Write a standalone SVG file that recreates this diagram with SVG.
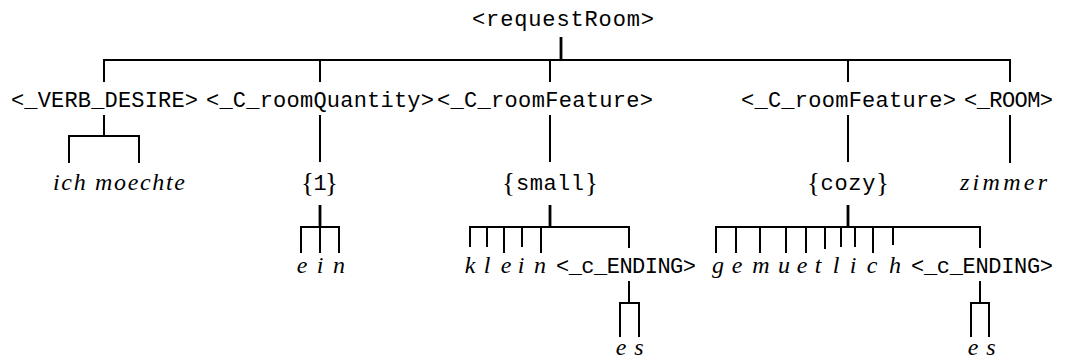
<svg xmlns="http://www.w3.org/2000/svg" width="1065" height="363" viewBox="0 0 1065 363">
  <style>
    .tt { font-family: "Liberation Mono", "DejaVu Sans Mono", monospace; font-size: 22px; fill: #000; }
    .rm { font-family: "Liberation Serif", "DejaVu Serif", serif; font-size: 27px; fill: #000; }
    .it { font-family: "Liberation Serif", "DejaVu Serif", serif; font-style: italic; font-size: 24px; fill: #000; }
    .mid { text-anchor: middle; }
    .end { text-anchor: end; }
    .edge { fill: none; stroke: #000; stroke-width: 2; stroke-linecap: butt; stroke-linejoin: miter; }
    .stem { fill: none; stroke: #000; stroke-width: 2.8; }
  </style>

  <!-- tree branches -->
  <g id="connectors">
    <!-- root -->
    <path class="stem" d="M561,37 V60"/>
    <path class="edge" d="M104,82 V60 H1010 V82 M320,60 V82 M550,60 V82 M848,60 V82"/>
    <!-- first level down to terminals/classes -->
    <path class="edge" d="M104,115 V136 M69,163 V136 H139 V163"/>
    <path class="edge" d="M320,115 V162"/>
    <path class="edge" d="M550,115 V162"/>
    <path class="edge" d="M848,115 V162"/>
    <path class="edge" d="M1010,115 V163"/>
    <!-- {1} -> e i n -->
    <path class="stem" d="M320,205 V227"/>
    <path class="edge" d="M301,253 V227 H339 V253 M320,227 V253"/>
    <!-- {small} -> k l e i n <_c_ENDING> -->
    <path class="stem" d="M550,205 V227"/>
    <path class="edge" d="M470,247 V227 H629 V248 M487,227 V247 M504,227 V253 M522,227 V247 M541,227 V253"/>
    <!-- {cozy} -> g e m u e t l i c h <_c_ENDING> -->
    <path class="stem" d="M848,205 V227"/>
    <path class="edge" d="M716,253 V227 H980 V248 M736,227 V253 M760,227 V253 M786,227 V253 M806,227 V253 M825,227 V249 M841,227 V247 M855,227 V247 M873,227 V253 M893,227 V245"/>
    <!-- endings -->
    <path class="edge" d="M629,281 V303 M620,337 V303 H639 V337"/>
    <path class="edge" d="M980,281 V303 M971,337 V303 H989 V337"/>
  </g>

  <g id="requestRoom">
    <text class="tt" x="472" y="26" textLength="182" lengthAdjust="spacing">&lt;requestRoom&gt;</text>
  </g>

  <g id="verb-desire">
    <text class="tt" x="11" y="107" textLength="187" lengthAdjust="spacing">&lt;_VERB_DESIRE&gt;</text>
  </g>
  <g id="ich-moechte">
    <text class="it" x="53" y="190" textLength="132" lengthAdjust="spacing">ich moechte</text>
  </g>

  <g id="room-quantity">
    <text class="tt" x="206" y="107" textLength="228" lengthAdjust="spacing">&lt;_C_roomQuantity&gt;</text>
  </g>
  <g id="value-1">
    <text class="rm" x="301" y="192">{</text>
    <text class="tt mid" x="320" y="190">1</text>
    <text class="rm end" x="338" y="192">}</text>
  </g>
  <g id="ein">
    <text class="it mid" x="302" y="273">e</text>
    <text class="it mid" x="320" y="273">i</text>
    <text class="it mid" x="339" y="273">n</text>
  </g>

  <g id="room-feature-1">
    <text class="tt" x="437" y="107" textLength="216" lengthAdjust="spacing">&lt;_C_roomFeature&gt;</text>
  </g>
  <g id="value-small">
    <text class="rm" x="502" y="192">{</text>
    <text class="tt mid" x="550" y="190" textLength="68" lengthAdjust="spacing">small</text>
    <text class="rm end" x="598" y="192">}</text>
  </g>
  <g id="klein">
    <text class="it mid" x="470" y="273">k</text>
    <text class="it mid" x="487" y="273">l</text>
    <text class="it mid" x="506" y="273">e</text>
    <text class="it mid" x="521" y="273">i</text>
    <text class="it mid" x="540" y="273">n</text>
  </g>
  <g id="ending-1">
    <text class="tt" x="556" y="273" textLength="140" lengthAdjust="spacing">&lt;_c_ENDING&gt;</text>
  </g>
  <g id="es-1">
    <text class="it mid" x="621" y="355">e</text>
    <text class="it mid" x="639" y="355">s</text>
  </g>

  <g id="room-feature-2">
    <text class="tt" x="741" y="107" textLength="215" lengthAdjust="spacing">&lt;_C_roomFeature&gt;</text>
  </g>
  <g id="value-cozy">
    <text class="rm" x="807" y="192">{</text>
    <text class="tt mid" x="848" y="190" textLength="55" lengthAdjust="spacing">cozy</text>
    <text class="rm end" x="889" y="192">}</text>
  </g>
  <g id="gemuetlich">
    <text class="it mid" x="718" y="273">g</text>
    <text class="it mid" x="737" y="273">e</text>
    <text class="it mid" x="761" y="273">m</text>
    <text class="it mid" x="784" y="273">u</text>
    <text class="it mid" x="802" y="273">e</text>
    <text class="it mid" x="818" y="273">t</text>
    <text class="it mid" x="836" y="273">l</text>
    <text class="it mid" x="853" y="273">i</text>
    <text class="it mid" x="872" y="273">c</text>
    <text class="it mid" x="895" y="273">h</text>
  </g>
  <g id="ending-2">
    <text class="tt" x="911" y="273" textLength="142" lengthAdjust="spacing">&lt;_c_ENDING&gt;</text>
  </g>
  <g id="es-2">
    <text class="it mid" x="973" y="355">e</text>
    <text class="it mid" x="991" y="355">s</text>
  </g>

  <g id="room">
    <text class="tt" x="964" y="107" textLength="89" lengthAdjust="spacing">&lt;_ROOM&gt;</text>
  </g>
  <g id="zimmer">
    <text class="it" x="960" y="190" textLength="87" lengthAdjust="spacing">zimmer</text>
  </g>
</svg>
